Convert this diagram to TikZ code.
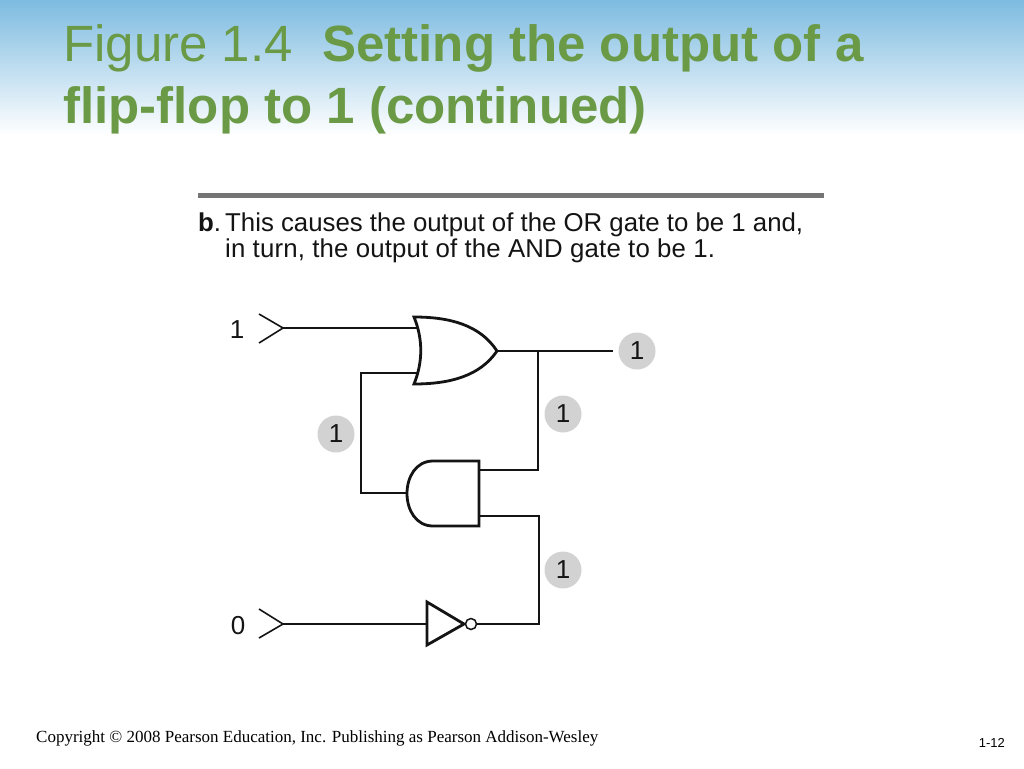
\documentclass[tikz,border=0pt]{standalone}
\usepackage{fontspec}
\setmainfont{Liberation Sans}
\newfontfamily\serifface{Liberation Serif}
\definecolor{titlegreen}{HTML}{6A9A45}
\definecolor{skyblue}{HTML}{7DBBE0}
\definecolor{badge}{HTML}{D2D2D2}
\definecolor{rulegray}{HTML}{757575}
\definecolor{ink}{HTML}{141414}
\tikzset{
  wire/.style={draw=ink,line width=1.6pt,line join=miter},
  gate/.style={draw=ink,fill=white,line width=2.8pt,line join=miter},
  badgenode/.style={circle,fill=badge,minimum size=37pt,inner sep=0pt,text=ink,font=\fontsize{26}{26}\selectfont},
  siglabel/.style={text=ink,inner sep=0pt,font=\fontsize{26}{26}\selectfont},
  titletext/.style={text=titlegreen,anchor=base west,inner sep=0pt,font=\fontsize{51}{51}\selectfont},
  bodytext/.style={text=ink,anchor=base west,inner sep=0pt,font=\fontsize{25.8}{25.8}\selectfont}
}
\begin{document}
\begin{tikzpicture}[x=1pt,y=-1pt]
\useasboundingbox (0,0) rectangle (1024,768);
\fill[white] (0,0) rectangle (1024,768);
\shade[top color=skyblue,bottom color=white] (0,0) rectangle (1024,135);
% title
\node[titletext] (t1) at (63,61) {Figure 1.4\hspace{29.5pt}\textbf{Setting the output of a}};
\node[titletext] (t2) at (63,123) {\textbf{flip-flop to 1 (continued)}};
% caption
\fill[rulegray] (198,193) rectangle (824,197.5);
\node[bodytext] (b0) at (198,231) {\textbf{b}.};
\node[bodytext] (b1) at (225,231) {This causes the output of the OR gate to be 1 and,};
\node[bodytext] (b2) at (225,257) {\addfontfeature{LetterSpace=0.6}in turn, the output of the AND gate to be 1.};
% named points
\coordinate (in1) at (283,328);
\coordinate (in1a) at (259,314);
\coordinate (in1b) at (259,343);
\coordinate (in0) at (283,624);
\coordinate (in0a) at (259,609);
\coordinate (in0b) at (259,638);
\coordinate (orA) at (417,328);
\coordinate (orB) at (419,373);
\coordinate (orOut) at (497,351);
\coordinate (andIn) at (407,493);
\coordinate (andT) at (479,470);
\coordinate (andB) at (479,516);
\coordinate (notIn) at (427,624);
\coordinate (bubbleR) at (477,624);
\coordinate (outEnd) at (613,351);
\coordinate (fb1) at (361,373);
\coordinate (fb2) at (361,493);
\coordinate (j1) at (538,351);
\coordinate (j2) at (538,470);
\coordinate (j3) at (539,516);
\coordinate (j4) at (539,624);
% wires
\draw[wire] (in1a) -- (in1) -- (in1b);
\draw[wire] (in0a) -- (in0) -- (in0b);
\draw[wire] (in1) -- (orA);
\draw[wire] (in0) -- (notIn);
\draw[wire] (orB) -- (fb1) -- (fb2) -- (andIn);
\draw[wire] (orOut) -- (outEnd);
\draw[wire] (j1) -- (j2) -- (andT);
\draw[wire] (andB) -- (j3) -- (j4) -- (bubbleR);
% OR gate
\draw[gate] (414,317) .. controls (450,317) and (480,325) .. (orOut)
  .. controls (480,376) and (450,384) .. (414,384)
  .. controls (423,362) and (423,339) .. cycle;
% AND gate
\draw[gate] (479,461) -- (433,461) .. controls (416,461) and (407,477) .. (407,493.5)
  .. controls (407,510) and (416,526) .. (433,526) -- (479,526) -- cycle;
% inverter
\draw[gate] (427,602) -- (464,624) -- (427,645) -- cycle;
\draw[draw=ink,fill=white,line width=1.5pt] (471,624) circle (5.5);
% labels
\node[siglabel] (s1) at (237,330) {1};
\node[siglabel] (s0) at (238,626) {0};
\node[badgenode] (n1) at (637,351) {1};
\node[badgenode] (n2) at (563,414) {1};
\node[badgenode] (n3) at (336,434) {1};
\node[badgenode] (n4) at (563,570) {1};
% footer
\node[anchor=base west,inner sep=0pt,font=\serifface\fontsize{17}{17}\selectfont,text=black] (f1) at (36,742) {Copyright © 2008 Pearson Education, Inc. Publishing as Pearson Addison-Wesley};
\node[anchor=base east,inner sep=0pt,font=\fontsize{13}{13}\selectfont,text=black] (f2) at (1005,747) {1-12};
\end{tikzpicture}
\end{document}
